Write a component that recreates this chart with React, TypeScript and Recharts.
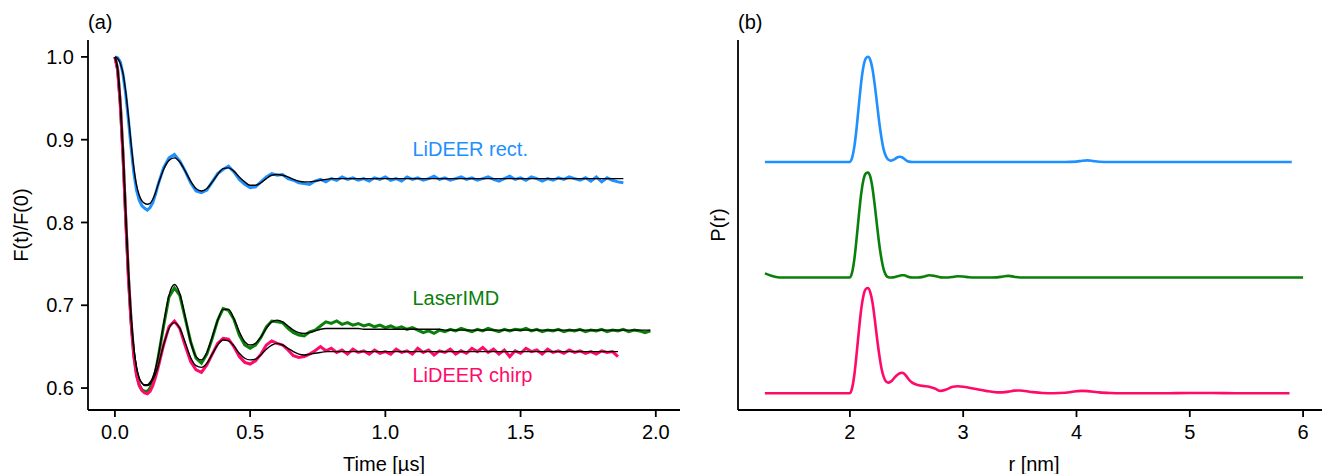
import React from 'react';
import { LineChart, Line, XAxis, YAxis, ReferenceDot, Label } from 'recharts';

const FONT = '"Liberation Sans", Arial, Helvetica, sans-serif';

const BLUE = '#1E90FF';
const GREEN = '#0A800A';
const PINK = '#FF0A6A';

// ---------- Panel (a): time traces ----------
const TIME = [
  0, 0.01, 0.02, 0.03, 0.04, 0.05, 0.06, 0.07, 0.08, 0.09, 0.1, 0.11, 0.12, 0.13, 0.14, 0.15, 0.16,
  0.18, 0.2, 0.22, 0.24, 0.26, 0.28, 0.3, 0.32, 0.34, 0.36, 0.38, 0.4, 0.42, 0.44, 0.46, 0.48, 0.5,
  0.52, 0.54, 0.56, 0.58, 0.6, 0.62, 0.64, 0.66, 0.68, 0.7, 0.72, 0.74, 0.76, 0.78, 0.8,
  0.82, 0.84, 0.86, 0.88, 0.9, 0.92, 0.94, 0.96, 0.98, 1.0,
  1.02, 1.04, 1.06, 1.08, 1.1, 1.12, 1.14, 1.16, 1.18, 1.2,
  1.22, 1.24, 1.26, 1.28, 1.3, 1.32, 1.34, 1.36, 1.38, 1.4,
  1.42, 1.44, 1.46, 1.48, 1.5, 1.52, 1.54, 1.56, 1.58, 1.6,
  1.62, 1.64, 1.66, 1.68, 1.7, 1.72, 1.74, 1.76, 1.78, 1.8,
  1.82, 1.84, 1.86, 1.88, 1.9, 1.92, 1.94, 1.96, 1.98,
];

const RECT_DATA = [
  1.0, 0.999, 0.994, 0.979, 0.955, 0.924, 0.89, 0.86, 0.839, 0.827, 0.82, 0.817, 0.815, 0.818, 0.824, 0.834, 0.846,
  0.866, 0.878, 0.882, 0.874, 0.862, 0.848, 0.838, 0.836, 0.839, 0.849, 0.859, 0.864, 0.868, 0.861, 0.852, 0.846,
  0.842, 0.843, 0.849, 0.855, 0.859, 0.857, 0.858, 0.853, 0.851, 0.848, 0.847, 0.846, 0.85, 0.852, 0.849, 0.853,
  0.851, 0.855, 0.852, 0.854, 0.851, 0.853, 0.85, 0.854, 0.852, 0.855,
  0.851, 0.853, 0.85, 0.855, 0.852, 0.854, 0.851, 0.853, 0.856, 0.852,
  0.854, 0.851, 0.853, 0.855, 0.852, 0.854, 0.851, 0.853, 0.855, 0.852,
  0.85, 0.853, 0.856, 0.852, 0.854, 0.851, 0.855, 0.853, 0.85, 0.853,
  0.851, 0.854, 0.852, 0.855, 0.853, 0.851, 0.854, 0.85, 0.855, 0.849,
  0.854, 0.851, 0.849, 0.848,
];
const RECT_FIT = [
  1.0, 0.998, 0.992, 0.98, 0.958, 0.928, 0.895, 0.866, 0.845, 0.833, 0.826, 0.823, 0.822, 0.823, 0.828, 0.836, 0.846,
  0.864, 0.875, 0.878, 0.873, 0.862, 0.85, 0.841, 0.838, 0.841, 0.849, 0.858, 0.865, 0.866, 0.862, 0.855, 0.849,
  0.845, 0.845, 0.848, 0.853, 0.857, 0.858, 0.857, 0.855, 0.852, 0.85, 0.849, 0.849, 0.85, 0.851, 0.852, 0.853,
  0.853, 0.853, 0.853, 0.853, 0.853, 0.853, 0.853, 0.853, 0.853, 0.853,
  0.853, 0.853, 0.853, 0.853, 0.853, 0.853, 0.853, 0.853, 0.853, 0.853,
  0.853, 0.853, 0.853, 0.853, 0.853, 0.853, 0.853, 0.853, 0.853, 0.853,
  0.853, 0.853, 0.853, 0.853, 0.853, 0.853, 0.853, 0.853, 0.853, 0.853,
  0.853, 0.853, 0.853, 0.853, 0.853, 0.853, 0.853, 0.853, 0.853, 0.853,
  0.853, 0.853, 0.853, 0.853,
];

const LASER_DATA = [
  1.0, 0.986, 0.944, 0.882, 0.806, 0.735, 0.68, 0.64, 0.617, 0.604, 0.598, 0.596, 0.596, 0.6, 0.608, 0.62, 0.637,
  0.675, 0.71, 0.721, 0.712, 0.684, 0.656, 0.636, 0.63, 0.641, 0.66, 0.682, 0.696, 0.694, 0.683, 0.664, 0.652,
  0.648, 0.652, 0.661, 0.674, 0.681, 0.68, 0.679, 0.672, 0.667, 0.664, 0.663, 0.668, 0.67, 0.675, 0.68, 0.678,
  0.681, 0.677, 0.679, 0.676, 0.678, 0.675, 0.677, 0.674, 0.676, 0.673,
  0.675, 0.672, 0.674, 0.671, 0.673, 0.67, 0.667, 0.669, 0.666, 0.67,
  0.668, 0.671, 0.669, 0.672, 0.67, 0.668, 0.671, 0.669, 0.672, 0.67,
  0.668, 0.671, 0.669, 0.671, 0.67, 0.672, 0.669, 0.671, 0.668, 0.67,
  0.669, 0.671, 0.668, 0.67, 0.669, 0.671, 0.668, 0.67, 0.669, 0.671,
  0.668, 0.67, 0.669, 0.671, 0.668, 0.67, 0.669, 0.667, 0.669,
];
const LASER_FIT = [
  1.0, 0.985, 0.945, 0.885, 0.81, 0.74, 0.685, 0.648, 0.625, 0.612, 0.606, 0.604, 0.604, 0.607, 0.613, 0.623, 0.638,
  0.677, 0.712, 0.725, 0.714, 0.686, 0.656, 0.638, 0.634, 0.643, 0.662, 0.682, 0.695, 0.695, 0.684, 0.668, 0.656,
  0.652, 0.654, 0.662, 0.672, 0.68, 0.682, 0.68, 0.675, 0.67, 0.667, 0.666, 0.667, 0.669, 0.671, 0.672, 0.672,
  0.672, 0.672, 0.672, 0.672, 0.672, 0.671, 0.671, 0.671, 0.671, 0.671,
  0.671, 0.671, 0.671, 0.671, 0.671, 0.671, 0.671, 0.671, 0.671, 0.671,
  0.67, 0.67, 0.67, 0.67, 0.67, 0.67, 0.67, 0.67, 0.67, 0.67,
  0.67, 0.67, 0.67, 0.67, 0.67, 0.67, 0.67, 0.67, 0.67, 0.67,
  0.67, 0.67, 0.67, 0.67, 0.67, 0.67, 0.67, 0.67, 0.67, 0.67,
  0.67, 0.67, 0.67, 0.67, 0.67, 0.67, 0.67, 0.67, 0.67,
];

const CHIRP_DATA = [
  1.0, 0.984, 0.942, 0.88, 0.804, 0.733, 0.678, 0.638, 0.615, 0.603, 0.597, 0.594, 0.593, 0.596, 0.603, 0.613, 0.625,
  0.652, 0.674, 0.681, 0.672, 0.651, 0.632, 0.622, 0.619, 0.628, 0.641, 0.654, 0.66, 0.659, 0.65, 0.638, 0.631,
  0.629, 0.633, 0.641, 0.652, 0.657, 0.654, 0.652, 0.646, 0.639, 0.637, 0.638, 0.641, 0.645, 0.65, 0.645, 0.648,
  0.643, 0.646, 0.641, 0.647, 0.643, 0.645, 0.641, 0.646, 0.642, 0.644,
  0.641, 0.647, 0.643, 0.645, 0.641, 0.648, 0.643, 0.646, 0.64, 0.645,
  0.643, 0.647, 0.641, 0.645, 0.642, 0.648, 0.644, 0.649, 0.643, 0.647,
  0.641, 0.646, 0.638, 0.645, 0.642, 0.648, 0.644, 0.646, 0.641, 0.647,
  0.643, 0.645, 0.642, 0.646, 0.643, 0.645, 0.642, 0.644, 0.641, 0.645,
  0.643, 0.644, 0.638,
];
const CHIRP_FIT = [
  1.0, 0.985, 0.945, 0.885, 0.81, 0.74, 0.685, 0.648, 0.625, 0.612, 0.606, 0.603, 0.603, 0.605, 0.61, 0.617, 0.627,
  0.652, 0.672, 0.679, 0.672, 0.655, 0.637, 0.627, 0.625, 0.63, 0.641, 0.652, 0.658, 0.657, 0.651, 0.642, 0.636,
  0.634, 0.635, 0.64, 0.647, 0.652, 0.654, 0.652, 0.648, 0.644, 0.641, 0.64, 0.641, 0.642, 0.643, 0.644, 0.644,
  0.644, 0.644, 0.644, 0.644, 0.644, 0.644, 0.644, 0.644, 0.644, 0.644,
  0.644, 0.644, 0.644, 0.644, 0.644, 0.644, 0.644, 0.644, 0.644, 0.644,
  0.644, 0.644, 0.644, 0.644, 0.644, 0.644, 0.644, 0.644, 0.644, 0.644,
  0.644, 0.644, 0.644, 0.644, 0.644, 0.644, 0.644, 0.644, 0.644, 0.644,
  0.644, 0.644, 0.644, 0.644, 0.644, 0.644, 0.644, 0.644, 0.644, 0.644,
  0.644, 0.644, 0.644,
];

const X_TICKS_A = [0, 0.5, 1.0, 1.5, 2.0];
const Y_TICKS_A = [0.6, 0.7, 0.8, 0.9, 1.0];

// ---------- Panel (b): distance distributions ----------
const R = [
  1.25, 1.3, 1.35, 1.4,
  1.5, 1.6, 1.7, 1.8, 1.9,
  1.96, 2.0,
  2.02, 2.04, 2.06, 2.08, 2.1, 2.12, 2.14, 2.16, 2.18, 2.2, 2.22, 2.24, 2.26,
  2.28, 2.3, 2.32, 2.34, 2.36, 2.38, 2.4, 2.42, 2.44, 2.46, 2.48, 2.5, 2.52,
  2.55, 2.6, 2.65, 2.7, 2.75, 2.8, 2.85, 2.9, 2.95, 3.0, 3.05, 3.1,
  3.2, 3.3, 3.35, 3.4, 3.45, 3.5, 3.6, 3.7, 3.8, 3.9,
  4.0, 4.05, 4.1, 4.15, 4.2, 4.3, 4.4,
  4.6, 4.8, 5.0, 5.2, 5.4, 5.6, 5.8,
  5.88, 5.9, 6.0,
];

const P_RECT = [
  0, 0, 0, 0,
  0, 0, 0, 0, 0,
  0, 0,
  0.04, 0.15, 0.33, 0.55, 0.76, 0.91, 0.985, 1.0, 0.97, 0.88, 0.73, 0.55, 0.37,
  0.22, 0.11, 0.05, 0.02, 0.012, 0.018, 0.03, 0.045, 0.05, 0.045, 0.03, 0.012, 0.003,
  0, 0, 0, 0, 0, 0, 0, 0, 0, 0, 0, 0,
  0, 0, 0, 0, 0, 0, 0, 0, 0, 0,
  0.003, 0.012, 0.015, 0.008, 0.002, 0, 0,
  0, 0, 0, 0, 0, 0, 0,
  0, 0, null,
];
const P_LASER = [
  0.04, 0.02, 0.005, 0,
  0, 0, 0, 0, 0,
  0, 0,
  0.05, 0.18, 0.38, 0.6, 0.8, 0.93, 0.99, 1.0, 0.96, 0.85, 0.68, 0.49, 0.31,
  0.17, 0.07, 0.02, 0.003, 0, 0.002, 0.006, 0.012, 0.018, 0.022, 0.022, 0.014, 0.005,
  0, 0, 0.008, 0.022, 0.015, 0.002, 0, 0.005, 0.012, 0.01, 0.003, 0,
  0, 0.002, 0.01, 0.016, 0.008, 0, 0, 0, 0, 0,
  0, 0, 0, 0, 0, 0, 0,
  0, 0, 0, 0, 0, 0, 0,
  0, 0, 0,
];
const P_CHIRP = [
  0, 0, 0, 0,
  0, 0, 0, 0, 0,
  0, 0,
  0.05, 0.18, 0.38, 0.6, 0.8, 0.93, 0.99, 1.0, 0.96, 0.86, 0.7, 0.52, 0.36,
  0.23, 0.15, 0.11, 0.1, 0.11, 0.13, 0.155, 0.175, 0.19, 0.195, 0.185, 0.16, 0.13,
  0.1, 0.078, 0.068, 0.062, 0.045, 0.022, 0.035, 0.058, 0.066, 0.062, 0.052, 0.042,
  0.022, 0.008, 0.008, 0.015, 0.024, 0.026, 0.012, 0.002, 0, 0.004,
  0.018, 0.022, 0.02, 0.014, 0.008, 0.002, 0,
  0, 0, 0.002, 0.002, 0, 0, 0,
  0, null, null,
];

// vertical offsets used to stack the three distributions
const OFFSET_RECT = 2.2;
const OFFSET_LASER = 1.1;
const OFFSET_CHIRP = 0;

const X_TICKS_B = [2, 3, 4, 5, 6];

// ---------- builders ----------
const timeSeries = (vals: number[]) => vals.map((v, i) => ({ t: TIME[i], v }));
const distSeries = (vals: (number | null)[], off: number) =>
  vals.map((v, i) => ({ r: R[i], v: v == null ? null : v + off }));

const rectData = timeSeries(RECT_DATA);
const rectFit = timeSeries(RECT_FIT);
const laserData = timeSeries(LASER_DATA);
const laserFit = timeSeries(LASER_FIT);
const chirpData = timeSeries(CHIRP_DATA);
const chirpFit = timeSeries(CHIRP_FIT);

const distRect = distSeries(P_RECT, OFFSET_RECT);
const distLaser = distSeries(P_LASER, OFFSET_LASER);
const distChirp = distSeries(P_CHIRP, OFFSET_CHIRP);

const tickStyle = { fontSize: 20, fill: '#000', fontFamily: FONT };
const axisLineStyle = { stroke: '#000', strokeWidth: 1.8 };

const axisText = (x: number, y: number, text: string, rotate = false) => () => (
  <text
    x={x}
    y={y}
    textAnchor="middle"
    fontSize={20}
    fontFamily={FONT}
    fill="#000"
    dominantBaseline={rotate ? 'central' : undefined}
    transform={rotate ? `rotate(-90 ${x} ${y})` : undefined}
  >
    {text}
  </text>
);

const annot = (text: string, color: string) => (props: any) => {
  const vb = props.viewBox || {};
  const x = (vb.x ?? 0) + (vb.width ?? 0) / 2;
  const y = (vb.y ?? 0) + (vb.height ?? 0) / 2;
  return (
    <text x={x} y={y} fill={color} fontSize={20} fontFamily={FONT}>
      {text}
    </text>
  );
};

export default function App() {
  return (
    <div
      style={{
        position: 'absolute',
        left: 0,
        top: 0,
        width: 1322,
        height: 474,
        overflow: 'hidden',
        background: '#fff',
      }}
    >
      {/* Panel (a) */}
      <div style={{ position: 'absolute', left: 0, top: 0 }}>
        <LineChart width={700} height={474} margin={{ top: 40, right: 20, bottom: 0, left: 0 }}>
          <XAxis
            type="number"
            dataKey="t"
            domain={[-0.0995, 2.0895]}
            ticks={X_TICKS_A}
            allowDataOverflow
            height={64}
            tickFormatter={(v: number) => v.toFixed(1)}
            tick={tickStyle}
            tickSize={7}
            tickMargin={8}
            axisLine={axisLineStyle}
            tickLine={axisLineStyle}
          >
            <Label content={axisText(384, 471, 'Time [µs]')} />
          </XAxis>
          <YAxis
            type="number"
            domain={[0.5735, 1.0204]}
            ticks={Y_TICKS_A}
            allowDataOverflow
            width={88}
            tickFormatter={(v: number) => v.toFixed(1)}
            tick={tickStyle}
            tickSize={7}
            tickMargin={7}
            axisLine={axisLineStyle}
            tickLine={axisLineStyle}
          >
            <Label content={axisText(21, 225, 'F(t)/F(0)', true)} />
          </YAxis>
          <Line data={rectData} dataKey="v" type="linear" stroke={BLUE} strokeWidth={3} dot={false} isAnimationActive={false} />
          <Line data={laserData} dataKey="v" type="linear" stroke={GREEN} strokeWidth={3} dot={false} isAnimationActive={false} />
          <Line data={chirpData} dataKey="v" type="linear" stroke={PINK} strokeWidth={3} dot={false} isAnimationActive={false} />
          <Line data={rectFit} dataKey="v" type="monotone" stroke="#000" strokeWidth={1.4} dot={false} isAnimationActive={false} />
          <Line data={laserFit} dataKey="v" type="monotone" stroke="#000" strokeWidth={1.4} dot={false} isAnimationActive={false} />
          <Line data={chirpFit} dataKey="v" type="monotone" stroke="#000" strokeWidth={1.4} dot={false} isAnimationActive={false} />
          <ReferenceDot x={1.1} y={0.88} r={0} fill="none" stroke="none" label={<Label content={annot('LiDEER rect.', BLUE)} />} />
          <ReferenceDot x={1.1} y={0.7} r={0} fill="none" stroke="none" label={<Label content={annot('LaserIMD', GREEN)} />} />
          <ReferenceDot x={1.1} y={0.607} r={0} fill="none" stroke="none" label={<Label content={annot('LiDEER chirp', PINK)} />} />
        </LineChart>
      </div>

      {/* Panel (b) */}
      <div style={{ position: 'absolute', left: 650, top: 0 }}>
        <LineChart width={700} height={474} margin={{ top: 40, right: 20, bottom: 0, left: 0 }}>
          <XAxis
            type="number"
            dataKey="r"
            domain={[1.0125, 6.2375]}
            ticks={X_TICKS_B}
            allowDataOverflow
            height={64}
            tickFormatter={(v: number) => String(v)}
            tick={tickStyle}
            tickSize={7}
            tickMargin={8}
            axisLine={axisLineStyle}
            tickLine={axisLineStyle}
          >
            <Label content={axisText(384, 471, 'r [nm]')} />
          </XAxis>
          <YAxis
            type="number"
            domain={[-0.16, 3.36]}
            allowDataOverflow
            width={88}
            tick={false}
            tickLine={false}
            axisLine={axisLineStyle}
          >
            <Label content={axisText(68, 225, 'P(r)', true)} />
          </YAxis>
          <Line data={distRect} dataKey="v" type="monotone" stroke={BLUE} strokeWidth={2.6} dot={false} isAnimationActive={false} />
          <Line data={distLaser} dataKey="v" type="monotone" stroke={GREEN} strokeWidth={2.6} dot={false} isAnimationActive={false} />
          <Line data={distChirp} dataKey="v" type="monotone" stroke={PINK} strokeWidth={2.6} dot={false} isAnimationActive={false} />
        </LineChart>
      </div>

      {/* panel tags */}
      <svg width={1322} height={40} style={{ position: 'absolute', left: 0, top: 0 }}>
        <text x={88} y={29} fontSize={20} fontFamily={FONT} fill="#000">(a)</text>
        <text x={738} y={29} fontSize={20} fontFamily={FONT} fill="#000">(b)</text>
      </svg>
    </div>
  );
}
